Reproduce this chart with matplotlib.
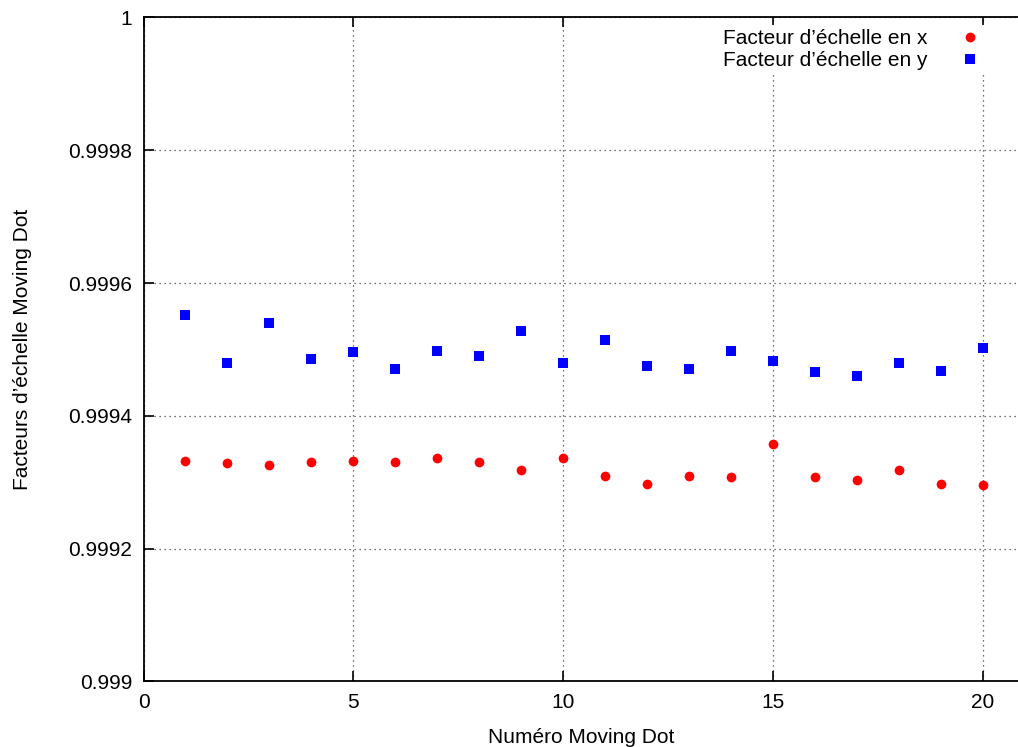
import matplotlib.pyplot as plt

# Données
dots = list(range(1, 21))
scale_x = [0.999332, 0.999329, 0.999326, 0.999331, 0.999332, 0.999331, 0.999337, 0.999331, 0.999318, 0.999337,
           0.999310, 0.999298, 0.999310, 0.999308, 0.999357, 0.999308, 0.999303, 0.999318, 0.999298, 0.999296]
scale_y = [0.999552, 0.999480, 0.999540, 0.999486, 0.999496, 0.999470, 0.999497, 0.999490, 0.999528, 0.999479,
           0.999514, 0.999475, 0.999470, 0.999497, 0.999482, 0.999466, 0.999460, 0.999479, 0.999467, 0.999502]
x_ticks = [0, 5, 10, 15, 20]
y_ticks = [0.999, 0.9992, 0.9994, 0.9996, 0.9998, 1.0]
y_labels = ['0.999', '0.9992', '0.9994', '0.9996', '0.9998', '1']

plt.rcParams['font.family'] = ['Liberation Sans', 'DejaVu Sans']
plt.rcParams['font.size'] = 15

fig = plt.figure(figsize=(10.18, 7.47), dpi=100)
ax = fig.add_axes([0.141, 0.0877, 0.859, 0.889])

ax.plot(dots, scale_x, 'o', color='#ff0000', markersize=7, markeredgewidth=0,
        label='Facteur d\u2019échelle en x')
ax.plot(dots, scale_y, 's', color='#0000ff', markersize=7.5, markeredgewidth=0,
        label='Facteur d\u2019échelle en y')

ax.set_xlim(0, 20.84)
ax.set_ylim(0.999, 1.0)
ax.set_xticks(x_ticks)
ax.set_yticks(y_ticks)
ax.set_yticklabels(y_labels)

ax.grid(True, color='#444444', linestyle=(0, (1, 3)), linewidth=0.9)
ax.tick_params(direction='in', length=7, width=1.2, top=True, right=False, pad=8)
for side in ['left', 'bottom', 'top']:
    ax.spines[side].set_linewidth(1.3)
ax.spines['right'].set_visible(False)

ax.set_xlabel('Numéro Moving Dot', labelpad=12)
ax.set_ylabel('Facteurs d\u2019échelle Moving Dot', labelpad=26)

leg = ax.legend(loc='upper right', bbox_to_anchor=(985 / 1018, 1 - 25 / 747), bbox_transform=fig.transFigure,
                markerfirst=False, frameon=True, fancybox=False, edgecolor='none', framealpha=1,
                handlelength=1.0, handletextpad=1.55, labelspacing=0.15, borderpad=0.2, borderaxespad=0)

fig.savefig('out.png', dpi=100)
